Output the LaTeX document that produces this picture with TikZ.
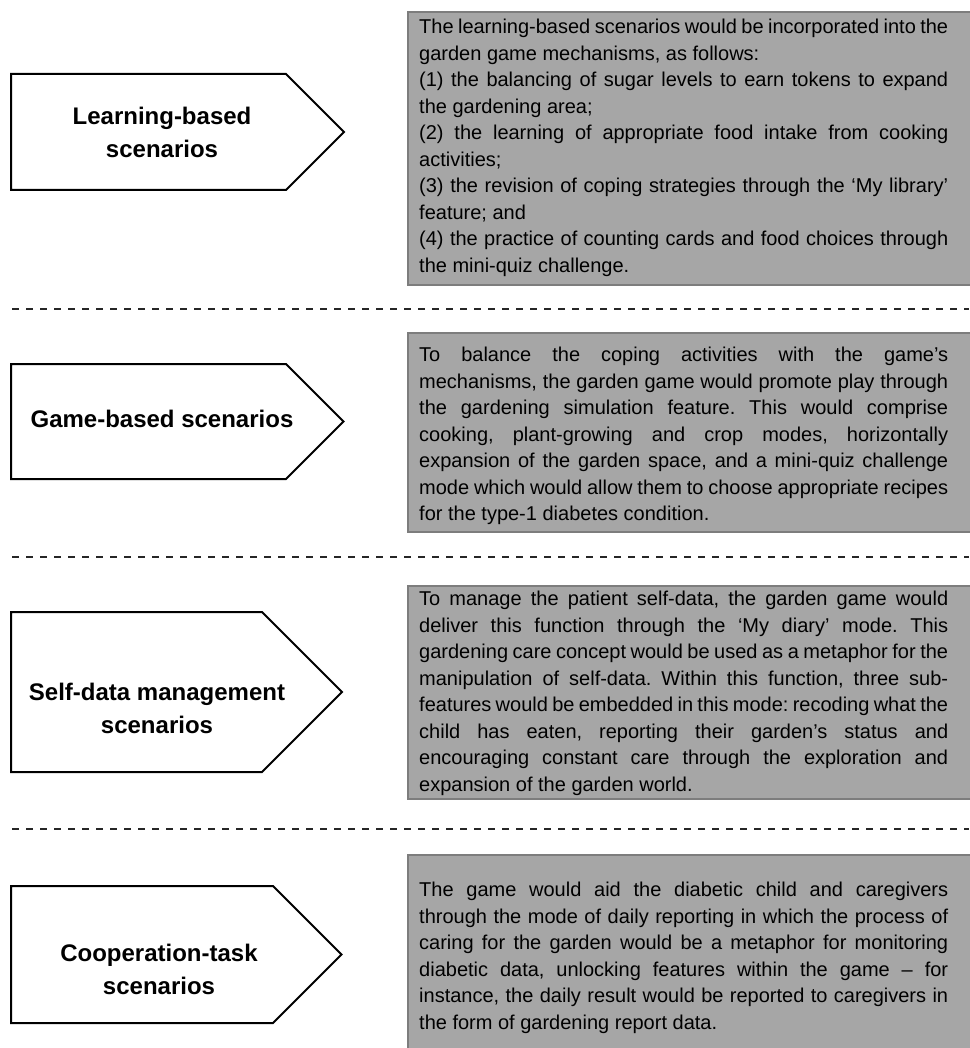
\documentclass[tikz,border=0pt]{standalone}
\usepackage{fontspec}
\setmainfont{Liberation Sans}

\definecolor{boxgray}{RGB}{166,166,166}
\definecolor{edgegray}{RGB}{125,125,125}
\newcommand{\bodyfont}{\fontsize{20}{26.5}\selectfont\frenchspacing}
\newcommand{\labelfont}{\fontsize{24}{33}\selectfont\bfseries}

\tikzset{
    scenario/.style={draw=black, line width=2pt, fill=white},
    scenariolabel/.style={font=\labelfont, align=center, inner sep=0pt},
    descbox/.style={draw=edgegray, line width=2pt, fill=boxgray},
    desctext/.style={font=\bodyfont, text width=529pt, align=justify, inner sep=0pt, anchor=north west},
    divider/.style={line width=1.6pt, black!85, dash pattern=on 7pt off 7pt}
}

\begin{document}
\begin{tikzpicture}[x=1pt, y=-1pt]
    \useasboundingbox (0,0) rectangle (969,1048);

    % Arrow-shaped boxes
    \foreach \ytop/\ybot/\xknee in {74/190/286, 364/479/286, 612/772/262, 886/1023/273}
        \draw[scenario] (11,\ytop) -- (\xknee,\ytop) -- ({\xknee+(\ybot-\ytop)/2},{(\ytop+\ybot)/2})
            -- (\xknee,\ybot) -- (11,\ybot) -- cycle;

    % Grey description boxes
    \foreach \ytop/\ybot in {12/285, 333/532, 586/799, 855/1052}
        \draw[descbox] (408,\ytop) rectangle (972,\ybot);

    % Dashed separators
    \foreach \y in {309,557,829}
        \draw[divider] (12,\y) -- (969,\y);

    % Scenario names
    \node[scenariolabel] (learnlabel) at (162,132) {Learning-based\\scenarios};
    \node[scenariolabel] (gamelabel) at (162,419) {Game-based scenarios};
    \node[scenariolabel] (selflabel) at (157,708) {Self-data management\\scenarios};
    \node[scenariolabel] (cooplabel) at (159,969) {Cooperation-task\\scenarios};

    % Descriptions
    \node[desctext] (learntext) at (419,19) {The learning-based scenarios would be incorporated into the\linebreak
        garden game mechanisms, as follows:\par
        (1) the balancing of sugar levels to earn tokens to expand\linebreak
        the gardening area;\par
        (2) the learning of appropriate food intake from cooking\linebreak
        activities;\par
        (3) the revision of coping strategies through the ‘My library’\linebreak
        feature; and\par
        (4) the practice of counting cards and food choices through\linebreak
        the mini-quiz challenge.};
    \node[desctext] (gametext) at (419,347) {To balance the coping activities with the game’s\linebreak
        mechanisms, the garden game would promote play through\linebreak
        the gardening simulation feature. This would comprise\linebreak
        cooking, plant-growing and crop modes, horizontally\linebreak
        expansion of the garden space, and a mini-quiz challenge\linebreak
        mode which would allow them to choose appropriate recipes\linebreak
        for the type-1 diabetes condition.};
    \node[desctext] (selftext) at (419,591) {To manage the patient self-data, the garden game would\linebreak
        deliver this function through the ‘My diary’ mode. This\linebreak
        gardening care concept would be used as a metaphor for the\linebreak
        manipulation of self-data. Within this function, three sub-\linebreak
        features would be embedded in this mode: recoding what the\linebreak
        child has eaten, reporting their garden’s status and\linebreak
        encouraging constant care through the exploration and\linebreak
        expansion of the garden world.};
    \node[desctext] (cooptext) at (419,882) {The game would aid the diabetic child and caregivers\linebreak
        through the mode of daily reporting in which the process of\linebreak
        caring for the garden would be a metaphor for monitoring\linebreak
        diabetic data, unlocking features within the game – for\linebreak
        instance, the daily result would be reported to caregivers in\linebreak
        the form of gardening report data.};
\end{tikzpicture}
\end{document}
